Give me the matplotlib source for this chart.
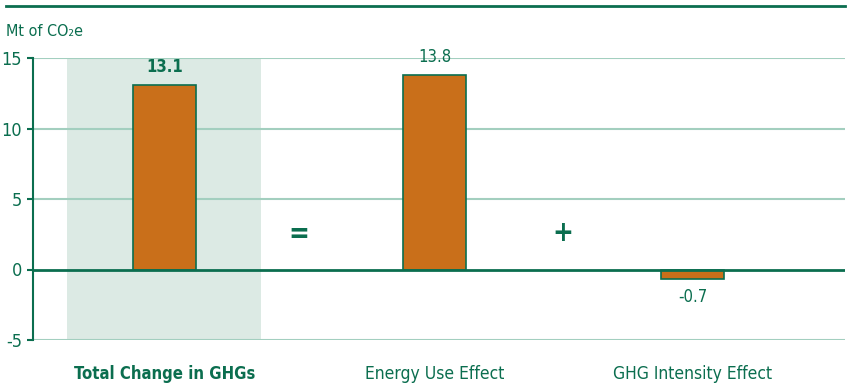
import matplotlib.pyplot as plt
import matplotlib.lines as mlines

# GHG change decomposition (Mt of CO2e)
categories = ['Total Change in GHGs', 'Energy Use Effect', 'GHG Intensity Effect']
values = [13.1, 13.8, -0.7]
value_labels = ['13.1', '13.8', '-0.7']
yticks = [-5, 0, 5, 10, 15]

x_pos = [0, 1.0, 1.955]

green = '#0B6E4F'
light_green = '#A3CFBF'
shade = '#DCEAE4'
orange = '#C96F1A'

plt.rcParams['font.family'] = ['DejaVu Sans']
plt.rcParams['font.stretch'] = 'condensed'
plt.rcParams['axes.unicode_minus'] = False

fig = plt.figure(figsize=(8.51, 3.83), dpi=100)
ax = fig.add_axes([33/851, 1 - 340/383, 812/851, 282/383])

ax.set_xlim(-0.487, 2.52)
ax.set_ylim(-5, 15)

# highlight band behind the total
ax.axvspan(-0.361, 0.357, color=shade, zorder=0, lw=0)

for t in [-5, 5, 10, 15]:
    ax.axhline(t, color=light_green, lw=1.5, zorder=1)
ax.axhline(0, color=green, lw=2, zorder=3)

ax.bar(x_pos, values, width=0.233, color=orange, edgecolor=green, linewidth=1.2, zorder=2)

for i, (x, v, lab) in enumerate(zip(x_pos, values, value_labels)):
    weight = 'bold' if i == 0 else 'normal'
    if v >= 0:
        ax.text(x, v + 0.6, lab, ha='center', va='bottom', color=green,
                fontsize=12, fontweight=weight)
    else:
        ax.text(x, v - 0.6, lab, ha='center', va='top', color=green,
                fontsize=12, fontweight=weight)

ax.set_xticks(x_pos)
ax.set_xticklabels(categories)
for i, lbl in enumerate(ax.get_xticklabels()):
    lbl.set_color(green)
    lbl.set_fontsize(12.5)
    if i == 0:
        lbl.set_fontweight('bold')
        lbl.set_fontsize(12)
ax.tick_params(axis='x', length=0, pad=18)

ax.set_yticks(yticks)
ax.tick_params(axis='y', colors=green, labelsize=13, length=4, width=1.5, pad=4)

for s in ['top', 'right', 'bottom']:
    ax.spines[s].set_visible(False)
ax.spines['left'].set_color(green)
ax.spines['left'].set_linewidth(1.5)

# operators between the components
ax.text(0.498, 2.5, '=', ha='center', va='center', color=green, fontsize=20, fontweight='bold')
ax.text(1.476, 2.6, '+', ha='center', va='center', color=green, fontsize=20, fontweight='bold')

fig.text(6/851, 1 - 32/383, 'Mt of CO₂e', color=green, fontsize=11.5, va='center', ha='left')
fig.add_artist(mlines.Line2D([6/851, 845/851], [1 - 6/383, 1 - 6/383], color=green, lw=2))

fig.savefig('out.png', dpi=100)
